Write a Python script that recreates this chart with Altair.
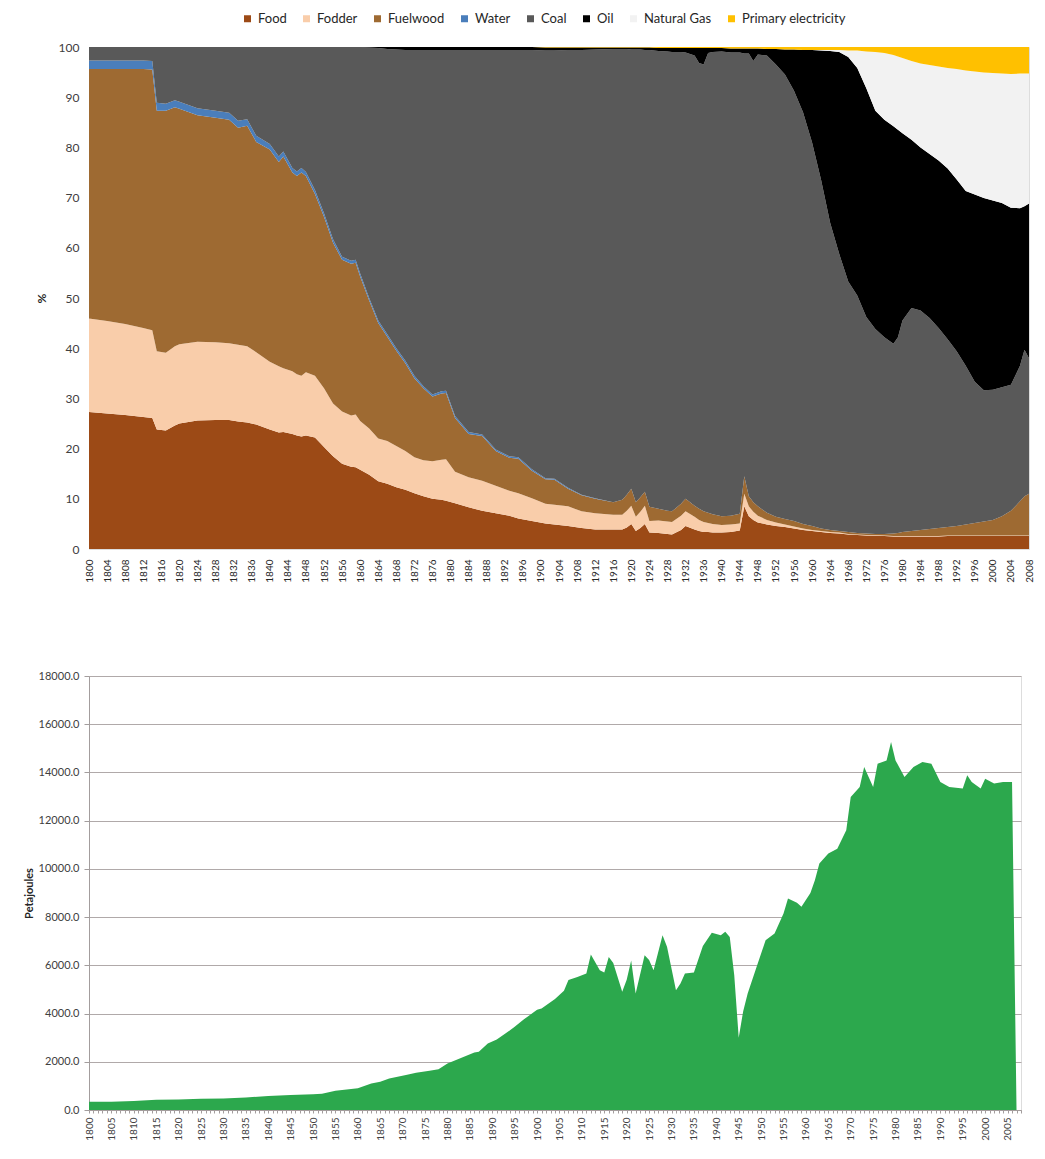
import altair as alt
import pandas as pd

# ---------------- top chart: shares of primary energy (%) ----------------
years_top = [1800, 1804, 1808, 1812, 1814,
             1815, 1817, 1819, 1820, 1824,
             1828, 1831, 1833, 1835, 1837,
             1840, 1842, 1843, 1845, 1846,
             1847, 1848, 1850, 1852, 1854,
             1856, 1858, 1859, 1860, 1862,
             1864, 1866, 1868, 1870, 1872,
             1874, 1876, 1878, 1879, 1881,
             1884, 1887, 1890, 1893, 1895,
             1898, 1901, 1903, 1906, 1909,
             1912, 1916, 1918, 1919, 1920,
             1921, 1922, 1923, 1924, 1926,
             1928, 1929, 1931, 1932, 1934,
             1935, 1936, 1937, 1938, 1940,
             1942, 1944, 1945, 1946, 1947,
             1948, 1950, 1952, 1954, 1956,
             1958, 1960, 1962, 1964, 1966,
             1968, 1970, 1972, 1974, 1976,
             1978, 1979, 1980, 1982, 1984,
             1986, 1988, 1990, 1992, 1994,
             1996, 1998, 2000, 2002, 2004,
             2006, 2007, 2008]

food = [27.3, 27.0, 26.7, 26.3, 26.1,
        23.8, 23.6, 24.6, 25.0, 25.6,
        25.7, 25.7, 25.4, 25.2, 24.8,
        23.8, 23.2, 23.3, 22.9, 22.6,
        22.4, 22.6, 22.2, 20.3, 18.5,
        17.0, 16.4, 16.3, 15.8, 14.8,
        13.5, 13.0, 12.3, 11.8, 11.1,
        10.5, 10.0, 9.8, 9.6, 9.1,
        8.3, 7.6, 7.1, 6.6, 6.1,
        5.6, 5.1, 4.9, 4.6, 4.2,
        3.9, 3.9, 3.9, 4.3, 5.0,
        3.6, 4.2, 5.0, 3.3, 3.2,
        3.0, 2.9, 3.8, 4.6, 3.9,
        3.6, 3.4, 3.4, 3.3, 3.3,
        3.4, 3.7, 8.5, 6.5, 5.8,
        5.3, 4.9, 4.6, 4.4, 4.1,
        3.8, 3.6, 3.4, 3.2, 3.1,
        2.9, 2.8, 2.7, 2.7, 2.6,
        2.5, 2.5, 2.5, 2.5, 2.5,
        2.5, 2.5, 2.6, 2.6, 2.6,
        2.6, 2.6, 2.6, 2.6, 2.6,
        2.6, 2.6, 2.6]

fodder = [18.6, 18.4, 18.1, 17.7, 17.5,
          15.6, 15.5, 15.8, 15.8, 15.7,
          15.5, 15.3, 15.3, 15.2, 14.4,
          13.5, 13.2, 12.7, 12.5, 12.2,
          12.1, 12.6, 12.3, 11.7, 10.5,
          10.4, 10.2, 10.5, 9.7, 9.2,
          8.5, 8.5, 8.2, 7.7, 7.2,
          7.2, 7.5, 8.0, 8.3, 6.3,
          6.0, 6.0, 5.5, 5.0, 5.0,
          4.5, 3.9, 3.9, 3.9, 3.3,
          3.2, 2.9, 2.9, 3.3, 3.6,
          2.8, 3.2, 3.6, 2.3, 2.5,
          2.5, 2.5, 2.8, 2.9, 2.5,
          2.2, 2.0, 1.8, 1.7, 1.5,
          1.5, 1.4, 2.5, 2.0, 1.6,
          1.3, 0.9, 0.7, 0.5, 0.4,
          0.3, 0.2, 0.2, 0.2, 0.2,
          0.1, 0.1, 0.1, 0.1, 0.1,
          0.1, 0.1, 0.1, 0.1, 0.1,
          0.1, 0.1, 0.1, 0.1, 0.1,
          0.1, 0.1, 0.1, 0.1, 0.1,
          0.1, 0.1, 0.1]

fuelwood = [49.7, 50.2, 50.8, 51.6, 51.9,
            47.9, 48.2, 47.6, 46.9, 45.1,
            44.7, 44.5, 43.2, 43.9, 41.9,
            42.3, 40.7, 42.2, 39.6, 39.5,
            40.5, 39.1, 36.2, 34.2, 32.0,
            30.2, 30.2, 30.2, 28.8, 25.5,
            23.0, 20.8, 19.0, 17.5, 15.7,
            14.3, 12.9, 13.2, 13.2, 10.7,
            8.6, 8.9, 6.9, 6.6, 6.9,
            5.5, 4.9, 5.0, 3.5, 3.2,
            2.9, 2.5, 3.0, 3.2, 3.4,
            2.9, 2.9, 2.8, 2.8, 2.3,
            2.1, 2.1, 2.4, 2.5, 2.2,
            2.2, 2.1, 2.0, 1.9, 1.7,
            1.7, 1.9, 3.5, 2.0, 1.9,
            1.9, 1.4, 1.1, 1.1, 1.1,
            0.9, 0.8, 0.5, 0.4, 0.3,
            0.4, 0.3, 0.3, 0.2, 0.3,
            0.5, 0.6, 0.8, 1.0, 1.2,
            1.4, 1.6, 1.7, 1.9, 2.2,
            2.5, 2.8, 3.1, 3.8, 4.9,
            6.8, 7.8, 8.3]

water = [1.7, 1.7, 1.7, 1.7, 1.7,
         1.6, 1.4, 1.4, 1.4, 1.4,
         1.4, 1.4, 1.4, 1.3, 1.2,
         1.1, 1.1, 1.0, 0.9, 0.9,
         0.9, 0.8, 0.8, 0.7, 0.7,
         0.6, 0.6, 0.6, 0.6, 0.5,
         0.5, 0.5, 0.5, 0.5, 0.5,
         0.4, 0.4, 0.4, 0.4, 0.4,
         0.4, 0.3, 0.3, 0.3, 0.3,
         0.3, 0.2, 0.2, 0.2, 0.1,
         0.1, 0, 0, 0, 0,
         0, 0, 0, 0, 0,
         0, 0, 0, 0, 0,
         0, 0, 0, 0, 0,
         0, 0, 0, 0, 0,
         0, 0, 0, 0, 0,
         0, 0, 0, 0, 0,
         0, 0, 0, 0, 0,
         0, 0, 0, 0, 0,
         0, 0, 0, 0, 0,
         0, 0, 0, 0, 0,
         0, 0, 0]

coal = [2.7, 2.7, 2.7, 2.7, 2.8,
        11.1, 11.3, 10.6, 10.9, 12.2,
        12.7, 13.1, 14.7, 14.4, 17.7,
        19.3, 21.8, 20.8, 24.1, 24.8,
        24.1, 24.9, 28.5, 33.1, 38.3,
        41.8, 42.6, 42.4, 45.1, 49.9,
        54.3, 56.8, 59.5, 61.9, 64.9,
        67.0, 68.6, 68.0, 67.9, 72.9,
        76.1, 76.6, 79.6, 80.9, 81.1,
        83.5, 85.2, 85.3, 87.2, 88.6,
        89.4, 90.3, 89.8, 88.8, 87.5,
        90.2, 89.2, 88.0, 91.0, 91.2,
        91.5, 91.5, 90.0, 88.9, 89.7,
        88.8, 89.0, 91.6, 92.1, 92.6,
        92.3, 91.9, 84.2, 88.2, 87.9,
        90.0, 91.1, 90.1, 88.5, 85.7,
        82.0, 76.4, 69.4, 61.2, 55.2,
        49.9, 47.3, 43.1, 40.8, 39.2,
        37.8, 39.0, 42.1, 44.4, 43.7,
        42.0, 39.8, 37.4, 34.8, 31.6,
        28.1, 26.1, 25.9, 25.7, 25.1,
        27.0, 29.2, 27.0]

oil = [0, 0, 0, 0, 0,
       0, 0, 0, 0, 0,
       0, 0, 0, 0, 0,
       0, 0, 0, 0, 0,
       0, 0, 0, 0, 0,
       0, 0, 0, 0, 0.1,
       0.2, 0.4, 0.5, 0.6, 0.6,
       0.6, 0.6, 0.6, 0.6, 0.6,
       0.6, 0.6, 0.6, 0.6, 0.6,
       0.6, 0.6, 0.6, 0.5, 0.5,
       0.4, 0.3, 0.3, 0.3, 0.4,
       0.4, 0.4, 0.5, 0.5, 0.6,
       0.7, 0.8, 0.8, 0.9, 1.5,
       3.0, 3.3, 1.0, 0.8, 0.7,
       0.8, 0.8, 1.0, 1.0, 2.5,
       1.2, 1.3, 3.1, 5.0, 8.2,
       12.4, 18.4, 25.8, 34.2, 40.2,
       44.7, 45.3, 45.6, 43.5, 43.3,
       43.3, 41.3, 37.3, 33.5, 32.5,
       32.7, 33.4, 34.0, 34.2, 34.8,
       37.3, 38.3, 37.7, 36.7, 35.3,
       31.4, 28.6, 30.8]

gas = [0, 0, 0, 0, 0,
       0, 0, 0, 0, 0,
       0, 0, 0, 0, 0,
       0, 0, 0, 0, 0,
       0, 0, 0, 0, 0,
       0, 0, 0, 0, 0,
       0, 0, 0, 0, 0,
       0, 0, 0, 0, 0,
       0, 0, 0, 0, 0,
       0, 0, 0, 0, 0,
       0, 0, 0, 0, 0,
       0, 0, 0, 0, 0,
       0, 0, 0, 0, 0,
       0, 0, 0, 0, 0,
       0, 0, 0, 0, 0,
       0, 0, 0, 0, 0,
       0, 0, 0.1, 0.2, 0.4,
       1.3, 3.5, 7.3, 11.7, 13.3,
       14.2, 14.6, 15.0, 15.7, 16.7,
       17.7, 18.7, 20.0, 22.0, 24.0,
       24.5, 25.0, 25.4, 25.8, 26.6,
       26.8, 26.4, 25.9]

elec = [0, 0, 0, 0, 0,
        0, 0, 0, 0, 0,
        0, 0, 0, 0, 0,
        0, 0, 0, 0, 0,
        0, 0, 0, 0, 0,
        0, 0, 0, 0, 0,
        0, 0, 0, 0, 0,
        0, 0, 0, 0, 0,
        0, 0, 0, 0, 0,
        0, 0.1, 0.1, 0.1, 0.1,
        0.1, 0.1, 0.1, 0.1, 0.1,
        0.1, 0.1, 0.1, 0.1, 0.2,
        0.2, 0.2, 0.2, 0.2, 0.2,
        0.2, 0.2, 0.2, 0.2, 0.2,
        0.3, 0.3, 0.3, 0.3, 0.3,
        0.3, 0.4, 0.4, 0.5, 0.5,
        0.6, 0.6, 0.6, 0.6, 0.6,
        0.7, 0.7, 0.9, 1.0, 1.2,
        1.6, 1.9, 2.2, 2.8, 3.3,
        3.6, 3.9, 4.2, 4.4, 4.7,
        4.9, 5.1, 5.2, 5.3, 5.4,
        5.3, 5.3, 5.3]

source_names = ["Food", "Fodder", "Fuelwood", "Water", "Coal", "Oil",
                "Natural Gas", "Primary electricity"]
source_colors = ["#9C4A16", "#F9CDAA", "#9E6A32", "#4A7EBB", "#595959",
                 "#000000", "#F2F2F2", "#FFC000"]

# ---------------- bottom chart: total energy (PJ) ----------------
years_pj = [1800, 1805, 1810, 1815, 1820, 1825, 1830, 1835, 1840, 1845,
            1850, 1852, 1855, 1860, 1863, 1865, 1867, 1871, 1873, 1876,
            1878, 1880, 1883, 1886, 1887, 1889, 1891, 1893, 1895, 1897,
            1900, 1901, 1904, 1906, 1907, 1909, 1911, 1912, 1914, 1915,
            1916, 1917, 1919, 1920, 1921, 1922, 1924, 1925, 1926, 1928,
            1929, 1931, 1932, 1933, 1935, 1937, 1939, 1941, 1942, 1943,
            1944, 1945, 1946, 1947, 1949, 1951, 1953, 1955, 1956, 1958,
            1959, 1961, 1962, 1963, 1965, 1967, 1969, 1970, 1972, 1973,
            1974, 1975, 1976, 1978, 1979, 1980, 1982, 1984, 1986, 1988,
            1990, 1992, 1995, 1996, 1997, 1999, 2000, 2002, 2004, 2006,
            2007]
petajoules = [345, 345, 370, 420, 440, 470, 480, 520, 580, 620,
              650, 670, 800, 900, 1100, 1170, 1310, 1460, 1550, 1630,
              1690, 1930, 2160, 2380, 2420, 2760, 2920, 3180, 3450, 3750,
              4160, 4210, 4600, 4950, 5390, 5520, 5660, 6450, 5800, 5700,
              6350, 6100, 4900, 5400, 6200, 4830, 6420, 6220, 5800, 7250,
              6770, 4970, 5250, 5660, 5700, 6800, 7350, 7250, 7390, 7180,
              5600, 3000, 4100, 4830, 5940, 7040, 7320, 8150, 8770, 8600,
              8430, 9000, 9530, 10220, 10640, 10840, 11600, 12980, 13400, 14230,
              13810, 13400, 14360, 14500, 15260, 14500, 13810, 14230, 14430, 14360,
              13600, 13400, 13330, 13880, 13600, 13330, 13740, 13540, 13600, 13600,
              0]

# ---------------- build tables ----------------
series = [food, fodder, fuelwood, water, coal, oil, gas, elec]
rows = []
for k, (name, vals) in enumerate(zip(source_names, series)):
    for yr, v in zip(years_top, vals):
        rows.append({"year": yr, "source": name, "share": v, "ord": k})
df_top = pd.DataFrame(rows)
df_pj = pd.DataFrame({"year": years_pj, "pj": petajoules})

FONT = "Lato"

top = alt.Chart(df_top).mark_area(clip=True).encode(
    x=alt.X("year:Q",
            scale=alt.Scale(domain=[1800, 2008], nice=False, zero=False),
            axis=alt.Axis(values=list(range(1800, 2009, 4)), format="d",
                          labelAngle=-90, title=None, grid=False, domain=False,
                          ticks=False, labelPadding=10, labelFontSize=10,
                          labelColor="#262626", labelFont=FONT,
                          labelOverlap=False)),
    y=alt.Y("share:Q", stack="zero",
            scale=alt.Scale(domain=[0, 100], nice=False),
            axis=alt.Axis(values=list(range(0, 101, 10)), title="%",
                          grid=False, domain=False, ticks=False,
                          labelPadding=10, labelFontSize=12,
                          labelColor="#404040", labelFont=FONT,
                          titleFontSize=12, titleFontWeight="bold",
                          titleColor="#262626", titlePadding=10)),
    color=alt.Color("source:N",
                    scale=alt.Scale(domain=source_names, range=source_colors),
                    sort=source_names,
                    legend=alt.Legend(orient="none", legendX=152, legendY=-35,
                                      direction="horizontal", title=None,
                                      symbolType="square", symbolSize=49,
                                      symbolStrokeWidth=0, labelFontSize=13,
                                      labelFont=FONT, labelColor="#262626",
                                      labelOffset=4, columnPadding=13)),
    order=alt.Order("ord:Q", sort="ascending"),
).properties(width=940, height=502)

bottom = alt.Chart(df_pj).mark_area(color="#2CA84D").encode(
    x=alt.X("year:Q",
            scale=alt.Scale(domain=[1800, 2008], nice=False, zero=False),
            axis=alt.Axis(values=list(range(1800, 2009)), format="d",
                          labelExpr="datum.value % 5 === 0 ? datum.label : ''",
                          labelAngle=-90, title=None, grid=False,
                          domainColor="#A39D9D", tickColor="#A39D9D",
                          tickSize=3, labelPadding=4, labelFontSize=10,
                          labelColor="#404040", labelFont=FONT,
                          labelOverlap=False)),
    y=alt.Y("pj:Q",
            scale=alt.Scale(domain=[0, 18000], nice=False),
            axis=alt.Axis(values=list(range(0, 18001, 2000)), format=".1f",
                          title="Petajoules", gridColor="#B0A9A9",
                          domainColor="#A39D9D", tickColor="#A39D9D",
                          tickSize=5, labelPadding=5, labelFontSize=11,
                          labelColor="#404040", labelFont=FONT,
                          titleFontSize=11, titleFontWeight="bold",
                          titleColor="#262626", titlePadding=4)),
).properties(width=932, height=434)

chart = alt.concat(top, bottom, columns=1, spacing=86).properties(
    padding={"left": 14, "top": 4, "right": 0, "bottom": 0}
).configure_view(strokeWidth=0).configure(font=FONT)

chart.save("out.html", embed_options={"renderer": "svg", "actions": False})
